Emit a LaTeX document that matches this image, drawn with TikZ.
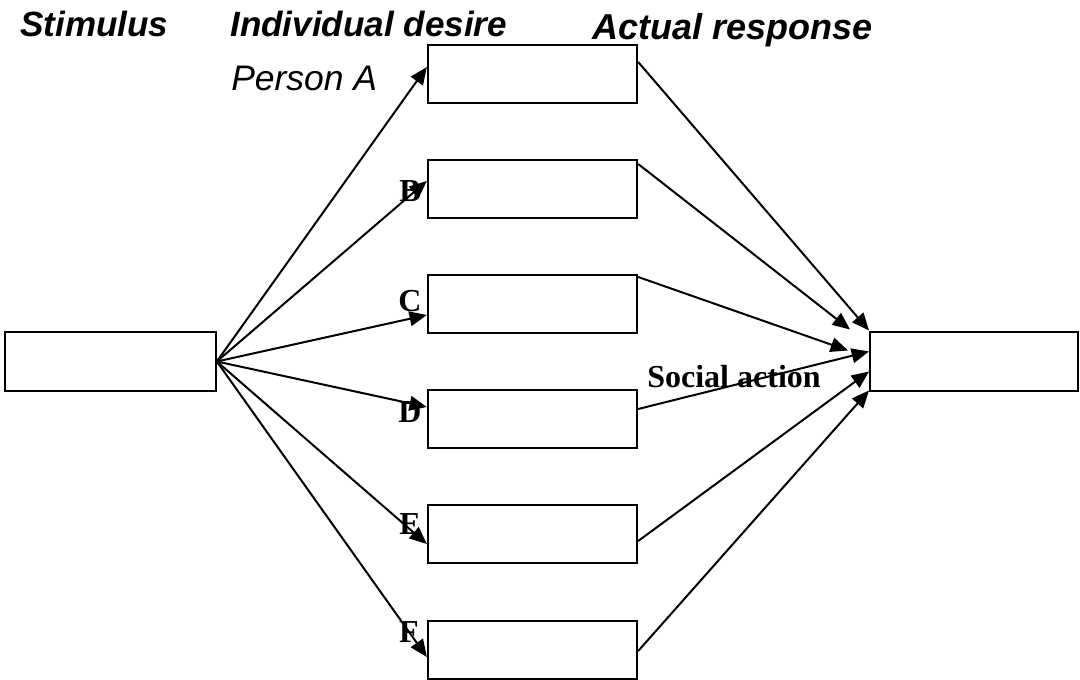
\documentclass[tikz,border=0pt]{standalone}
\usepackage{fontspec}
\setmainfont{Liberation Serif}
\setsansfont{Liberation Sans}
\usetikzlibrary{arrows.meta,calc}
\tikzset{
  box/.style={draw, line width=1.5pt, inner sep=0pt, minimum width=157pt, minimum height=43.5pt},
  conn/.style={line width=1.5pt, -{Triangle[length=13pt,width=11pt]}},
  title/.style={font=\sffamily\bfseries\itshape\fontsize{26.3}{30}\selectfont, anchor=base west, inner sep=0pt},
  person/.style={font=\sffamily\itshape\fontsize{26.6}{30}\selectfont, anchor=base west, inner sep=0pt},
  lab/.style={font=\rmfamily\bfseries\fontsize{24}{28}\selectfont, inner sep=0pt}
}
\begin{document}
\begin{tikzpicture}[x=0.75pt,y=-0.75pt]
\useasboundingbox (0,0) rectangle (1080,680);
% titles
\node[title] (t1) at (20,37) {Stimulus};
\node[title] (t2) at (230,37) {Individual desire};
\node[title, font=\sffamily\bfseries\itshape\fontsize{27}{30}\selectfont] (t3) at (592,40) {Actual response};
\node[person] (pa) at (231,91) {Person A};
% boxes
\node[box, minimum width=158pt] (S) at (110.5,361.5) {};
\node[box] (A) at (532.5,74) {};
\node[box] (B) at (532.5,189) {};
\node[box] (C) at (532.5,304) {};
\node[box] (D) at (532.5,419) {};
\node[box] (E) at (532.5,534) {};
\node[box] (F) at (532.5,650) {};
\node[box, minimum width=156pt] (R) at (974,361.5) {};
% labels
\node[lab] (lB) at (410,191) {B};
\node[lab] (lC) at (410,301) {C};
\node[lab] (lD) at (410,412) {D};
\node[lab] (lE) at (410,524) {E};
\node[lab] (lF) at (409,632) {F};
% stimulus to desires
\draw[conn] (S.east) -- ($(A.north west)+(0,23)$);
\draw[conn] (S.east) -- ($(B.north west)+(0,22)$);
\draw[conn] (S.east) -- ($(C.north west)+(0,41)$);
\draw[conn] (S.east) -- ($(D.north west)+(0,18)$);
\draw[conn] (S.east) -- ($(E.north west)+(0,40)$);
\draw[conn] (S.east) -- ($(F.north west)+(0,37)$);
% desires to response
\draw[conn] ($(A.north east)+(0,18)$) -- ($(R.north west)+(0,-1)$);
\draw[conn] ($(B.north east)+(0,5)$) -- ($(R.north west)+(-19,-2)$);
\draw[conn] ($(C.north east)+(0,3)$) -- ($(R.north west)+(-21,19)$);
\draw[conn] ($(D.north east)+(0,20)$) -- ($(R.north west)+(0,20)$);
\draw[conn] ($(E.north east)+(0,37)$) -- ($(R.north west)+(0,40)$);
\draw[conn] ($(F.north east)+(0,31)$) -- ($(R.north west)+(0,59)$);
\node[lab] (sa) at (734,377) {Social action};
\end{tikzpicture}
\end{document}
